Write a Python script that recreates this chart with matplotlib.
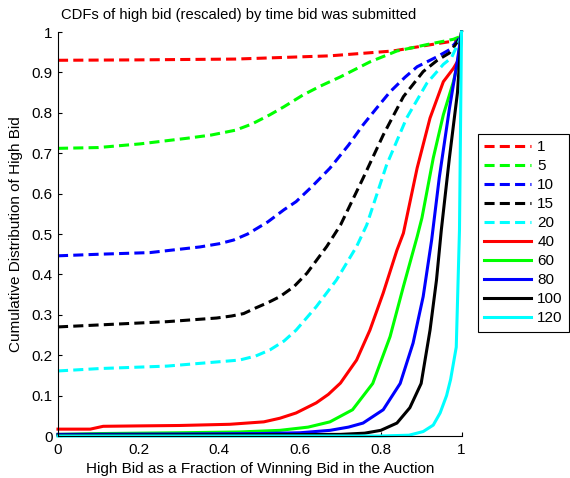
import matplotlib
matplotlib.use("Agg")
import matplotlib.pyplot as plt

plt.rcParams['font.family'] = ['Liberation Sans', 'DejaVu Sans']

# values (x = bid / winning bid, y = CDF)
t1_x = [0, 0.2, 0.44, 0.674, 0.83, 0.92, 0.97, 0.99, 1.0]
t1_y = [0.930, 0.931, 0.933, 0.941, 0.953, 0.968, 0.976, 0.979, 0.99]

t5_x = [0, 0.1, 0.203, 0.32, 0.38, 0.44, 0.48, 0.525, 0.56, 0.607, 0.65, 0.70, 0.773, 0.84, 0.92, 0.98, 1.0]
t5_y = [0.712, 0.714, 0.723, 0.737, 0.745, 0.757, 0.772, 0.795, 0.815, 0.844, 0.866, 0.889, 0.926, 0.953, 0.970, 0.982, 0.99]

t10_x = [0, 0.104, 0.228, 0.352, 0.40, 0.435, 0.47, 0.52, 0.56, 0.59, 0.63, 0.674, 0.72, 0.756, 0.79, 0.823, 0.86, 0.89, 0.94, 0.97, 1.0]
t10_y = [0.446, 0.450, 0.454, 0.468, 0.476, 0.485, 0.50, 0.53, 0.56, 0.58, 0.618, 0.663, 0.72, 0.77, 0.812, 0.852, 0.888, 0.914, 0.939, 0.956, 0.99]

t15_x = [0, 0.104, 0.27, 0.393, 0.43, 0.46, 0.49, 0.52, 0.55, 0.585, 0.617, 0.666, 0.70, 0.756, 0.806, 0.856, 0.905, 0.94, 0.97, 1.0]
t15_y = [0.270, 0.275, 0.283, 0.292, 0.297, 0.303, 0.317, 0.33, 0.345, 0.37, 0.403, 0.469, 0.522, 0.638, 0.745, 0.84, 0.902, 0.93, 0.948, 0.99]

t20_x = [0, 0.104, 0.27, 0.45, 0.49, 0.525, 0.56, 0.59, 0.64, 0.69, 0.74, 0.765, 0.814, 0.864, 0.914, 0.955, 0.975, 1.0]
t20_y = [0.161, 0.167, 0.173, 0.188, 0.198, 0.213, 0.235, 0.262, 0.32, 0.386, 0.469, 0.522, 0.67, 0.787, 0.873, 0.92, 0.936, 0.99]

t40_x = [0, 0.08, 0.112, 0.2, 0.3, 0.426, 0.51, 0.55, 0.59, 0.64, 0.67, 0.70, 0.74, 0.773, 0.806, 0.84, 0.856, 0.89, 0.922, 0.955, 0.98, 0.992, 1.0]
t40_y = [0.017, 0.017, 0.024, 0.025, 0.026, 0.029, 0.035, 0.044, 0.057, 0.082, 0.103, 0.131, 0.188, 0.262, 0.354, 0.46, 0.502, 0.663, 0.787, 0.877, 0.91, 0.93, 1.0]

t60_x = [0, 0.1, 0.3, 0.45, 0.55, 0.62, 0.674, 0.73, 0.78, 0.823, 0.856, 0.89, 0.902, 0.93, 0.955, 0.98, 0.99, 1.0]
t60_y = [0.004, 0.006, 0.008, 0.010, 0.014, 0.022, 0.035, 0.065, 0.13, 0.246, 0.37, 0.493, 0.54, 0.688, 0.795, 0.877, 0.92, 1.0]

t80_x = [0, 0.3, 0.5, 0.6, 0.674, 0.72, 0.756, 0.806, 0.848, 0.88, 0.905, 0.926, 0.945, 0.97, 0.99, 1.0]
t80_y = [0.004, 0.005, 0.006, 0.008, 0.014, 0.022, 0.032, 0.065, 0.13, 0.23, 0.345, 0.485, 0.64, 0.81, 0.93, 1.0]

t100_x = [0, 0.5, 0.7, 0.76, 0.8, 0.84, 0.872, 0.9, 0.922, 0.938, 0.95, 0.97, 0.99, 1.0]
t100_y = [0.002, 0.003, 0.004, 0.007, 0.014, 0.032, 0.07, 0.13, 0.262, 0.386, 0.51, 0.688, 0.85, 1.0]

t120_x = [0, 0.8, 0.87, 0.905, 0.93, 0.947, 0.963, 0.973, 0.987, 0.995, 1.0]
t120_y = [0.0, 0.0, 0.002, 0.011, 0.027, 0.057, 0.1, 0.14, 0.22, 0.51, 1.0]

labels = ['1', '5', '10', '15', '20', '40', '60', '80', '100', '120']
xs = [t1_x, t5_x, t10_x, t15_x, t20_x, t40_x, t60_x, t80_x, t100_x, t120_x]
ys = [t1_y, t5_y, t10_y, t15_y, t20_y, t40_y, t60_y, t80_y, t100_y, t120_y]
colors = ['#ff0000', '#00ff00', '#0000ff', '#000000', '#00ffff'] * 2

fig = plt.figure(figsize=(5.7, 4.78), dpi=100)
ax = fig.add_axes([58 / 570, 1 - 436 / 478, 403.5 / 570, 404 / 478])

for i in range(10):
    ls = (0, (3.3, 1.7)) if i < 5 else '-'
    ax.plot(xs[i], ys[i], color=colors[i], lw=2.2, linestyle=ls, label=labels[i],
            clip_on=False)

ax.set_xlim(0, 1)
ax.set_ylim(0, 1)
ax.set_xticks([0, 0.2, 0.4, 0.6, 0.8, 1])
ax.set_xticklabels(['0', '0.2', '0.4', '0.6', '0.8', '1'])
ax.set_yticks([i / 10 for i in range(11)])
ax.set_yticklabels(['0', '0.1', '0.2', '0.3', '0.4', '0.5', '0.6', '0.7', '0.8', '0.9', '1'])
ax.spines['top'].set_visible(False)
ax.spines['right'].set_visible(False)
for s in ['left', 'bottom']:
    ax.spines[s].set_linewidth(0.8)
ax.tick_params(direction='in', length=3, width=0.8, labelsize=11)
ax.tick_params(axis='x', pad=5)
ax.tick_params(axis='y', pad=4)

ax.set_xlabel('High Bid as a Fraction of Winning Bid in the Auction', fontsize=11, labelpad=4)
fig.text(16 / 570, 1 - 234 / 478, 'Cumulative Distribution of High Bid', fontsize=11,
         rotation=90, ha='center', va='center')
fig.text(239 / 570, 1 - 15 / 478, 'CDFs of high bid (rescaled) by time bid was submitted',
         fontsize=10.6, ha='center', va='center')

leg = fig.legend(loc='upper left', bbox_to_anchor=(478 / 570, 1 - 134 / 478),
                 fontsize=11, labelspacing=0.33, handlelength=3.07, handletextpad=0.4,
                 borderpad=0.4, borderaxespad=0, fancybox=False, framealpha=1)
leg.get_frame().set_edgecolor('black')
leg.get_frame().set_linewidth(0.8)

fig.savefig('out.png', dpi=100)
